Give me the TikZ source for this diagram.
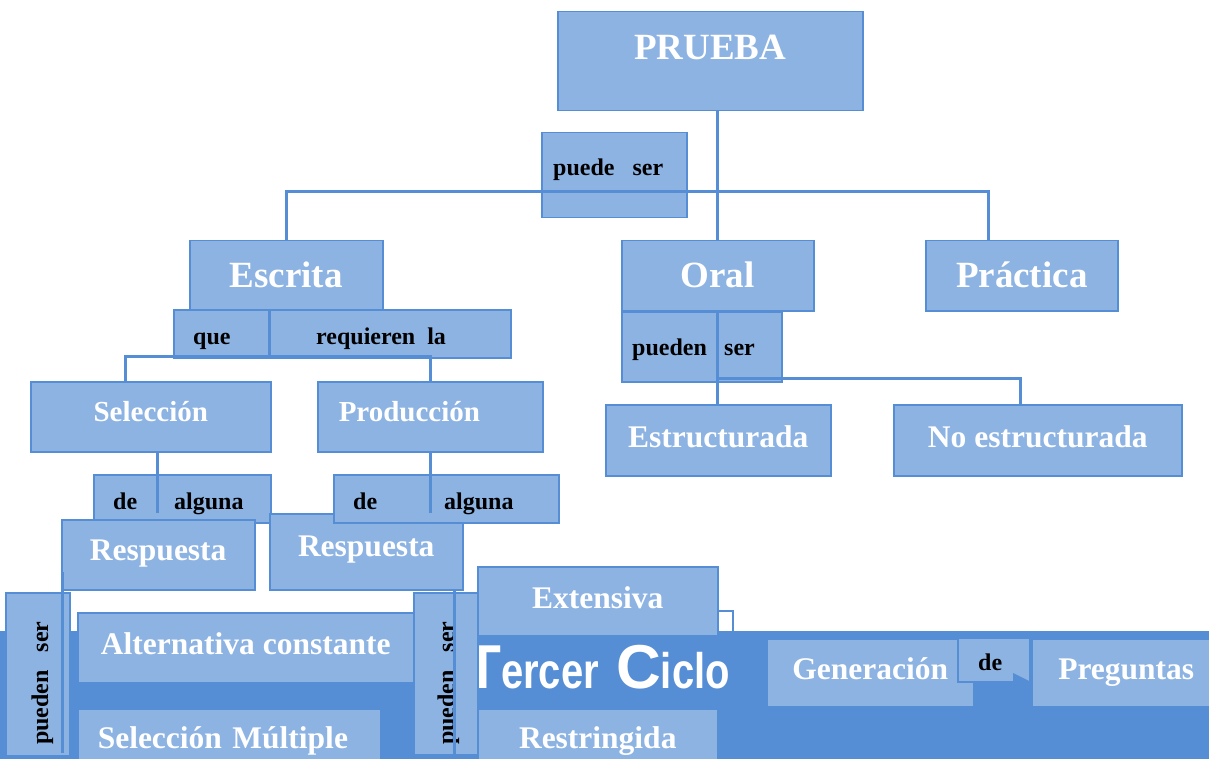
\documentclass[tikz,border=0pt]{standalone}
\usepackage{fontspec}
\setmainfont{Liberation Serif}
\setsansfont{Liberation Sans}
\usetikzlibrary{calc}
\usetikzlibrary{positioning}

\definecolor{claro}{RGB}{141,179,226}
\definecolor{borde}{RGB}{85,142,213}

\tikzset{
  caja/.style={draw=borde, fill=claro, line width=1.5pt, inner sep=0pt, anchor=north west, text=white},
  marco/.style={draw=borde, fill=claro, line width=1.5pt, inner sep=0pt, anchor=north west},
  tam/.style n args={3}{minimum width=#1pt, text height=#2pt, text depth=#3pt},
  titulo/.style={font=\bfseries\fontsize{37}{37}\selectfont},
  medio/.style={font=\bfseries\fontsize{31.5}{32}\selectfont},
  menor/.style={font=\bfseries\fontsize{29}{29}\selectfont},
  nexo/.style={anchor=base west, inner sep=0pt, font=\bfseries\fontsize{24}{24}\selectfont},
  linea/.style={draw=borde, line width=3pt}
}

\begin{document}
\begin{tikzpicture}[x=1pt, y=-1pt]
\useasboundingbox (0,0) rectangle (1209,759);
\clip (0,0) rectangle (1209,759);

% banda de fondo
\fill[borde] (0,631) rectangle (1209,759);
\node[anchor=base west, inner sep=0pt, text=white, font=\sffamily\bfseries] (ciclo) at (463,688)
  {\fontsize{62}{62}\selectfont T\scalebox{0.8}[1]{\fontsize{50}{50}\selectfont ercer} C\scalebox{0.8}[1]{\fontsize{50}{50}\selectfont iclo}};

% nivel superior
\node[caja, titulo, tam={305}{48}{51}] (prueba) at (557,11) {PRUEBA};
\node[marco, tam={145}{85}{0}] (puedeser) at (541,132) {};
\node[nexo] (tpuedeser) at (553,176) {puede\ \ \ ser};

\node[caja, titulo, tam={193}{47}{22}] (escrita) at (189,240) {Escrita};
\node[caja, titulo, tam={192}{47}{23}] (oral) at (621,240) {Oral};
\node[caja, titulo, tam={192}{47}{23}] (practica) at (925,240) {Práctica};

\node[marco, tam={337}{48}{0}] (querequieren) at (173,309) {};
\node[nexo] (tque) at (193,344) {que};
\node[nexo] (trequieren) at (316,344) {requieren\ \ la};

\node[marco, tam={160}{70}{0}] (puedenoral) at (621,311) {};
\node[nexo] (tpuedenoral) at (632,355) {pueden};
\node[nexo] (tseroral) at (724,355) {ser};

\node[caja, menor, tam={240}{40}{30}] (seleccion) at (30,381) {Selección};
\node[caja, menor, tam={225}{40}{30}, text width=225pt, align=left] (produccion) at (317,381) {\hspace*{21pt}Producción};

\node[caja, medio, tam={225}{43}{28}] (estructurada) at (605,404) {Estructurada};
\node[caja, medio, tam={288}{43}{28}] (noestructurada) at (893,404) {No estructurada};

% respuestas
\node[marco, tam={177}{48}{0}] (dealguna1) at (93,474) {};
\node[nexo] (tde1) at (113,509) {de};
\node[nexo] (talguna1) at (174,509) {alguna};
\node[caja, medio, tam={193}{41}{29}] (respuesta1) at (61,519) {Respuesta};
\node[caja, medio, tam={193}{43}{33}] (respuesta2) at (269,513) {Respuesta};
\node[marco, tam={225}{48}{0}] (dealguna2) at (333,474) {};
\node[nexo] (tde2) at (353,509) {de};
\node[nexo] (talguna2) at (444,509) {alguna};

% parte baja
\node[marco, tam={64}{163}{0}] (pueden1) at (5,592) {};
\node[nexo, rotate=90] (tpueden1) at (48,745) {pueden\ \ \ ser};
\node[caja, medio, tam={336}{42}{28}] (alternativa) at (77,612) {Alternativa constante};
\node[caja, medio, tam={303}{40}{27}, text width=303pt, align=left] (multiple) at (77,708) {\hspace*{20pt}Selección Múltiple};
\node[marco, tam={64}{162}{0}] (pueden2) at (413,592) {};
\node[nexo, rotate=90] (tpueden2) at (454,745) {pueden\ \ \ ser};
\node[caja, medio, tam={240}{42}{27}] (extensiva) at (477,566) {Extensiva};
\node[caja, medio, tam={240}{40}{27}] (restringida) at (477,708) {Restringida};
\node[caja, medio, tam={207}{41}{27}] (generacion) at (766,638) {Generación};
\node[marco, tam={72}{44}{0}] (debox) at (957,637) {};
\node[nexo] (tde3) at (978,670) {de};
\fill[borde] (1013,673) -- (1029,681) -- (1013,681) -- cycle;
\node[caja, medio, tam={189}{41}{27}] (preguntas) at (1031,638) {Preguntas};
\node[marco, tam={222}{20}{0}] (franja) at (766,757) {};

% conectores
\coordinate (c1) at (988,192);
\coordinate (c2) at (269,356);
\coordinate (c3) at (125,356);
\coordinate (c4) at (157,513);
\coordinate (c5a) at (62,572);
\coordinate (c5) at (62,753);
\coordinate (c6) at (454,754);
\coordinate (c7) at (1020,378);
\coordinate (c8) at (733,611);
\coordinate (c9) at (733,632);

\draw[linea] (oral.north) -- (oral.north |- prueba.south);
\draw[linea] (escrita.north) |- (c1) -- (c1 |- practica.north);
\draw[linea] (c2 |- escrita.south) -- (c2);
\draw[linea] (c3 |- seleccion.north) -- (c3) -- (produccion.north |- c3) -- (produccion.north);
\draw[linea] (c4 |- seleccion.south) -- (c4);
\draw[linea] (produccion.south) -- (produccion.south |- c4);
\draw[linea] (c5a) -- (c5);
\draw[linea] (c6 |- respuesta2.south) -- (c6);
\draw[linea] (oral.south) -- (oral.south |- estructurada.north);
\draw[linea] (oral.south |- c7) -- (c7) -- (c7 |- noestructurada.north);
\draw[draw=borde, line width=2pt] (extensiva.east |- c8) -- (c8) -- (c9);
\end{tikzpicture}
\end{document}
